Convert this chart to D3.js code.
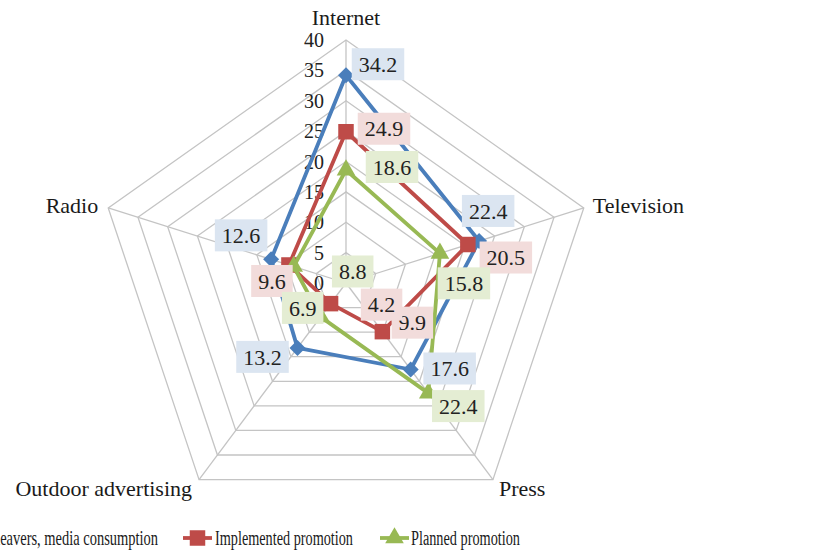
<!DOCTYPE html>
<html>
<head>
<meta charset="utf-8">
<script src="https://cdn.jsdelivr.net/npm/d3@7"></script>
<style>
    body { margin: 0; background: #fff; }
    svg { display: block; font-family: "Liberation Serif", "DejaVu Serif", serif; }
</style>
</head>
<body>
<svg id="chart" width="831" height="553"></svg>
<script>
// chart data
var categories = ['Internet', 'Television', 'Press', 'Outdoor advertising', 'Radio'];
var ticks = [0, 5, 10, 15, 20, 25, 30, 35, 40];
var seriesNames = ['School leavers, media consumption', 'Implemented promotion', 'Planned promotion'];
var leaversValues = [34.2, 22.4, 17.6, 13.2, 12.6];
var implementedValues = [24.9, 20.5, 9.9, 4.2, 9.6];
var plannedValues = [18.6, 15.8, 22.4, 6.9, 8.8];

// where each data label sits, relative to its point (hand placed in the original)
var labelOffsets = [
    [[32, -11], [9, -30], [39, -1], [-35, 9], [-30, -24]],
    [[38, -3], [38, 13], [30, -9], [51, 1], [-17, 16]],
    [[46, -3], [24, 30], [30, 13], [-18, -9], [59, 5]]
];

var series = [
    {name: seriesNames[0], values: leaversValues, color: '#4a7ebb', fill: '#dbe5f1', marker: 'diamond'},
    {name: seriesNames[1], values: implementedValues, color: '#be4b48', fill: '#f2dcdb', marker: 'square'},
    {name: seriesNames[2], values: plannedValues, color: '#98b954', fill: '#e4edd3', marker: 'triangle'}
];

var svg = d3.select('#chart');
var cx = 346, cy = 283;
var rx = 250, ry = 243;   // picture is slightly squashed vertically

var r = d3.scaleLinear().domain([0, 40]).range([0, 1]);
var angle = d3.scaleLinear().domain([0, categories.length]).range([0, 2 * Math.PI]);

function point(i, v) {
    var a = angle(i);
    return [cx + rx * r(v) * Math.sin(a), cy - ry * r(v) * Math.cos(a)];
}

// grid rings
var grid = svg.append('g').attr('class', 'grid');
grid.selectAll('.ring')
    .data(ticks.slice(1))
  .enter().append('polygon')
    .attr('class', 'ring')
    .attr('points', function (t) {
        return categories.map(function (_, i) { return point(i, t).join(','); }).join(' ');
    })
    .attr('fill', 'none')
    .attr('stroke', '#c4c4c4')
    .attr('stroke-width', 1.3);

grid.selectAll('.spoke')
    .data(categories)
  .enter().append('line')
    .attr('class', 'spoke')
    .attr('x1', cx).attr('y1', cy)
    .attr('x2', function (_, i) { return point(i, 40)[0]; })
    .attr('y2', function (_, i) { return point(i, 40)[1]; })
    .attr('stroke', '#c4c4c4')
    .attr('stroke-width', 1.3);

// axis tick labels, along the Internet spoke
svg.append('g').selectAll('text')
    .data(ticks)
  .enter().append('text')
    .attr('x', cx - 22)
    .attr('y', function (t) { return point(0, t)[1]; })
    .attr('dy', '0.35em')
    .attr('text-anchor', 'end')
    .attr('font-size', 20)
    .attr('fill', '#222')
    .text(function (t) { return t; });

// category labels
var catPos = [
    {dx: 0, dy: -23, anchor: 'middle'},
    {dx: 9, dy: -3, anchor: 'start'},
    {dx: 6, dy: 9, anchor: 'start'},
    {dx: -7, dy: 9, anchor: 'end'},
    {dx: -10, dy: -3, anchor: 'end'}
];
svg.append('g').selectAll('text')
    .data(categories)
  .enter().append('text')
    .attr('x', function (_, i) { return point(i, 40)[0] + catPos[i].dx; })
    .attr('y', function (_, i) { return point(i, 40)[1] + catPos[i].dy; })
    .attr('dy', '0.35em')
    .attr('text-anchor', function (_, i) { return catPos[i].anchor; })
    .attr('font-size', 22)
    .attr('fill', '#1a1a1a')
    .text(function (d) { return d; });

function markerPath(type) {
    if (type === 'diamond') return 'M0,-8L8,0L0,8L-8,0Z';
    if (type === 'square') return d3.symbol(d3.symbolSquare, 240)();
    return d3.symbol(d3.symbolTriangle, 150)();
}

var line = d3.line().curve(d3.curveLinearClosed);

var layers = svg.append('g').selectAll('.series')
    .data(series)
  .enter().append('g')
    .attr('class', 'series');

layers.append('path')
    .attr('d', function (s) {
        return line(s.values.map(function (v, i) { return point(i, v); }));
    })
    .attr('fill', 'none')
    .attr('stroke', function (s) { return s.color; })
    .attr('stroke-width', 3.8)
    .attr('stroke-linejoin', 'round');

layers.each(function (s) {
    d3.select(this).selectAll('.marker')
        .data(s.values)
      .enter().append('path')
        .attr('class', 'marker')
        .attr('transform', function (v, i) { return 'translate(' + point(i, v) + ')'; })
        .attr('d', markerPath(s.marker))
        .attr('fill', s.color);
});

// data labels
series.forEach(function (s, si) {
    var g = svg.append('g').attr('class', 'labels');
    s.values.forEach(function (v, i) {
        var p = point(i, v);
        var x = p[0] + labelOffsets[si][i][0];
        var y = p[1] + labelOffsets[si][i][1];
        var label = g.append('g').attr('transform', 'translate(' + x + ',' + y + ')');
        var txt = label.append('text')
            .attr('text-anchor', 'middle')
            .attr('dy', '0.35em')
            .attr('font-size', 22)
            .attr('fill', '#222')
            .text(d3.format('.1f')(v));
        var w = txt.node().getComputedTextLength() + 14;
        label.insert('rect', 'text')
            .attr('x', -w / 2).attr('y', -16)
            .attr('width', w).attr('height', 32)
            .attr('fill', s.fill);
    });
});

// legend, cut off at the left edge like the original
var legendY = 538;
var legendItems = [
    {x: 158, symbolStart: null},
    {x: 215, symbolStart: 183},
    {x: 411, symbolStart: 380}
];
var textLengths = [null, 138, 109];

series.forEach(function (s, si) {
    var item = legendItems[si];
    var g = svg.append('g').attr('class', 'legend-entry');
    if (si === 0) {
        // squeeze horizontally to match the original's narrow lettering
        var t0 = g.append('text')
            .attr('dy', '0.35em')
            .attr('text-anchor', 'end')
            .attr('font-size', 20)
            .attr('fill', '#1a1a1a')
            .text(s.name);
        var full = t0.node().getComputedTextLength();
        var part = t0.node().getSubStringLength(0, 'School l'.length);
        var k = 158 / (full - part);
        t0.attr('transform', 'translate(' + item.x + ',' + legendY + ') scale(' + k + ',1)');
        var sx = item.x - full * k - 10;
        g.append('line')
            .attr('x1', sx - 29).attr('x2', sx)
            .attr('y1', legendY).attr('y2', legendY)
            .attr('stroke', s.color).attr('stroke-width', 3.8);
        return;
    }
    g.append('line')
        .attr('x1', item.symbolStart).attr('x2', item.symbolStart + 29)
        .attr('y1', legendY).attr('y2', legendY)
        .attr('stroke', s.color).attr('stroke-width', 3.8);
    g.append('path')
        .attr('transform', 'translate(' + (item.symbolStart + 14.5) + ',' + legendY + ')')
        .attr('d', markerPath(s.marker))
        .attr('fill', s.color);
    g.append('text')
        .attr('x', item.x).attr('y', legendY)
        .attr('dy', '0.35em')
        .attr('font-size', 20)
        .attr('fill', '#1a1a1a')
        .attr('textLength', textLengths[si])
        .attr('lengthAdjust', 'spacingAndGlyphs')
        .text(s.name);
});
</script>
</body>
</html>
